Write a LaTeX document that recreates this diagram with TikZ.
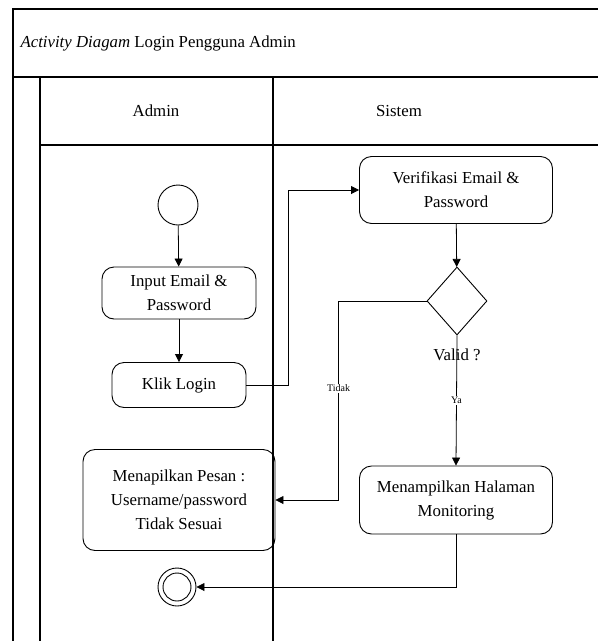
\documentclass[tikz,border=0pt]{standalone}
\usepackage{fontspec}
\setmainfont{Liberation Serif}
\usetikzlibrary{arrows.meta,shapes.geometric}

\tikzset{
  frameline/.style={line width=1.2pt},
  flow/.style={line width=0.8pt},
  arr/.style={flow,-{Triangle[length=8pt,width=8pt]}},
  action/.style={draw,line width=0.9pt,rounded corners=12pt,align=center,
    font=\fontsize{16.8}{24}\selectfont,inner sep=0pt},
  lanehead/.style={font=\fontsize{16.8}{20}\selectfont},
  guard/.style={font=\fontsize{10}{12}\selectfont,fill=white,inner sep=1pt},
}

\begin{document}
\begin{tikzpicture}[x=1pt,y=-1pt]
  \clip (0,0) rectangle (598,641);
  \fill[white] (0,0) rectangle (598,641);

  % pool frame and lanes
  \draw[frameline] (13,645) -- (13,9) -- (605,9);
  \draw[frameline] (13,77) -- (605,77);
  \draw[frameline] (40,145) -- (605,145);
  \draw[frameline] (40,77) -- (40,645);
  \draw[frameline] (273,77) -- (273,645);

  \node[anchor=west,font=\fontsize{16.8}{20}\selectfont] (title) at (17,43)
    {\textit{Activity Diagam} Login Pengguna Admin};
  \node[lanehead] (admin) at (156,111) {Admin};
  \node[lanehead] (sistem) at (399,111) {Sistem};

  % activities
  \node[draw,circle,line width=0.9pt,minimum size=40pt,inner sep=0pt] (start) at (178,205) {};
  \node[action,minimum width=154pt,minimum height=52pt] (input) at (179,293)
    {Input Email \&\\Password};
  \node[action,minimum width=134pt,minimum height=45pt] (klik) at (179,385)
    {Klik Login};
  \node[action,minimum width=193pt,minimum height=67pt] (verif) at (456,190)
    {Verifikasi Email \&\\Password};
  \node[draw,diamond,line width=0.9pt,minimum width=60pt,minimum height=68pt,
    inner sep=0pt] (dec) at (457,301) {};
  \node[font=\fontsize{16.8}{20}\selectfont] (validlbl) at (457,355) {Valid ?};
  \node[action,minimum width=193pt,minimum height=68pt] (mon) at (456,500)
    {Menampilkan Halaman\\Monitoring};
  \node[action,minimum width=192pt,minimum height=101pt] (pesan) at (179,500)
    {Menapilkan Pesan :\\Username/password\\Tidak Sesuai};
  \node[draw,circle,line width=0.9pt,minimum size=38pt,inner sep=0pt] (end) at (177,587) {};
  \node[draw,circle,line width=0.9pt,minimum size=28pt,inner sep=0pt] at (end) {};

  % control flow
  \draw[arr] (start) -- (input);
  \draw[arr] (input) -- (klik);
  \draw[arr] (klik.east) -- ++(42,0) |- (verif.west);
  \draw[arr] (verif) -- (dec);
  \draw[arr] (dec.west) -- ++(-88,0) |- (pesan.east)
    node[guard,pos=0.22] {Tidak};
  \draw[arr] (dec.south) -- (mon.north)
    node[guard,pos=0.5] {Ya};
  \draw[arr] (mon.south) |- (end.east);
\end{tikzpicture}
\end{document}
